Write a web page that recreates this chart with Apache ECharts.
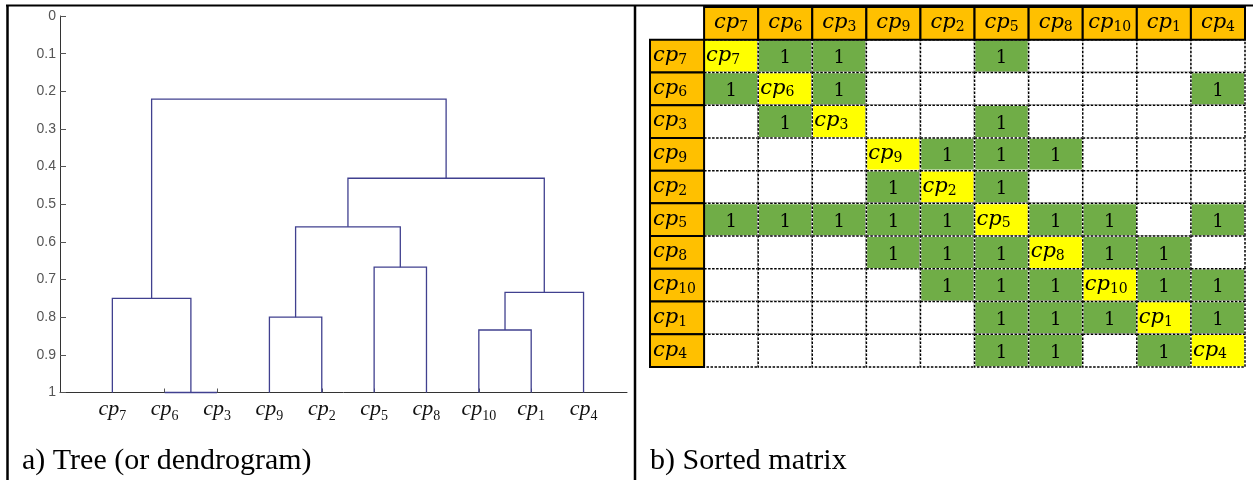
<!DOCTYPE html>
<html><head><meta charset="utf-8">
<script src="https://cdn.jsdelivr.net/npm/echarts@6/dist/echarts.min.js"></script>
<style>html,body{margin:0;padding:0;background:#fff}#c{width:1253px;height:480px}</style>
</head><body><div id="c"></div>
<script>
// ---- data ----
// leaf order (subscripts of cp)
const leaves = ['7','6','3','9','2','5','8','10','1','4'];
// linkage: children (0..9 leaves, 10+ merged clusters) and merge height
const linkA = [1, 0, 3, 5, 12, 7, 15, 14, 11];
const linkB = [2, 10, 4, 6, 13, 8, 9, 16, 17];
const linkH = [1.0, 0.75, 0.8, 0.667, 0.56, 0.834, 0.734, 0.431, 0.221];
const yTickStep = 0.1;
// sorted matrix (rows/cols in leaf order); diagonal shows the label
const matrixRows = [
  [0,1,1,0,0,1,0,0,0,0],
  [1,0,1,0,0,0,0,0,0,1],
  [0,1,0,0,0,1,0,0,0,0],
  [0,0,0,0,1,1,1,0,0,0],
  [0,0,0,1,0,1,0,0,0,0],
  [1,1,1,1,1,0,1,1,0,1],
  [0,0,0,1,1,1,0,1,1,0],
  [0,0,0,0,1,1,1,0,1,1],
  [0,0,0,0,0,1,1,1,0,1],
  [0,0,0,0,0,1,1,0,1,0]
];
const captionA = 'a) Tree (or dendrogram)';
const captionB = 'b) Sorted matrix';

// ---- build dendrogram segments ----
const nodeX = leaves.map((_, i) => i + 1);
const nodeY = leaves.map(() => 1);
const segs = [];
for (let k = 0; k < linkA.length; k++) {
  const a = linkA[k], b = linkB[k], h = linkH[k];
  segs.push([nodeX[a], nodeY[a], nodeX[b], nodeY[b], h]);
  nodeX.push((nodeX[a] + nodeX[b]) / 2);
  nodeY.push(h);
}

// ---- build matrix cells ----
const cells = [];
for (let r = 0; r < 10; r++) for (let c = 0; c < 10; c++) {
  cells.push({col: c + 1, row: r + 1, kind: r === c ? 2 : matrixRows[r][c], lab: leaves[r]});
}
for (let i = 0; i < 10; i++) {
  cells.push({col: i + 1, row: 0, kind: 3, lab: leaves[i]});
  cells.push({col: 0, row: i + 1, kind: 4, lab: leaves[i]});
}
const cats = Array.from({length: 11}, (_, i) => String(i));

const GREEN = '#70ad47', YELLOW = '#ffff00', ORANGE = '#ffc000';
const mathRich = {
  c: {fontFamily: 'DejaVu Serif', fontStyle: 'italic', fontSize: 21, lineHeight: 21, verticalAlign: 'top', color: '#000'},
  s: {fontFamily: 'DejaVu Serif', fontSize: 14, lineHeight: 22, verticalAlign: 'bottom', color: '#000'}
};

const chart = echarts.init(document.getElementById('c'), null, {renderer: 'canvas'});
chart.setOption({
  backgroundColor: '#fff',
  animation: false,
  grid: [
    {left: 60, top: 16, width: 567, height: 376.5},
    {left: 650, top: 7, width: 595, height: 360}
  ],
  xAxis: [
    {type: 'value', gridIndex: 0, min: 0, max: 10.83, interval: 1,
     axisLine: {show: true, onZero: false, lineStyle: {color: '#333', width: 1}},
     axisTick: {show: true, inside: true, length: 4, lineStyle: {color: '#555'}},
     splitLine: {show: false},
     axisLabel: {margin: 6, showMaxLabel: false, showMinLabel: false,
       formatter: v => (Number.isInteger(v) && v >= 1 && v <= 10) ? '{c|cp}{s|' + leaves[v - 1] + '}' : '',
       rich: {
         c: {fontFamily: 'Liberation Serif', fontStyle: 'italic', fontSize: 22, lineHeight: 22, verticalAlign: 'top', color: '#111'},
         s: {fontFamily: 'Liberation Serif', fontSize: 14, lineHeight: 25, verticalAlign: 'bottom', color: '#111'}
       }}},
    {type: 'category', gridIndex: 1, data: cats, show: false}
  ],
  yAxis: [
    {type: 'value', gridIndex: 0, inverse: true, min: 0, max: 1, interval: yTickStep,
     axisLine: {show: true, onZero: false, lineStyle: {color: '#333', width: 1}},
     axisTick: {show: true, inside: true, length: 6, lineStyle: {color: '#555'}},
     splitLine: {show: false},
     axisLabel: {margin: 4, color: '#555', fontFamily: 'Liberation Sans', fontSize: 14,
       formatter: v => String(+v.toFixed(1))}},
    {type: 'category', gridIndex: 1, data: cats, inverse: true, show: false}
  ],
  series: [
    {type: 'custom', xAxisIndex: 0, yAxisIndex: 0, clip: false, data: segs,
     renderItem(params, api) {
       const p1 = api.coord([api.value(0), api.value(1)]);
       const p2 = api.coord([api.value(0), api.value(4)]);
       const p3 = api.coord([api.value(2), api.value(4)]);
       const p4 = api.coord([api.value(2), api.value(3)]);
       return {type: 'polyline', shape: {points: [p1, p2, p3, p4]},
               style: {stroke: '#40408f', lineWidth: 1.3, fill: null}};
     }},
    {type: 'custom', xAxisIndex: 1, yAxisIndex: 1, clip: false,
     data: cells.map(c => [c.col, c.row, c.kind]),
     renderItem(params, api) {
       const cell = cells[params.dataIndex];
       const p = api.coord([cell.col, cell.row]);
       const s = api.size([1, 1]);
       const x0 = p[0] - s[0] / 2, y0 = p[1] - s[1] / 2, w = s[0], h = s[1];
       const children = [];
       const mathText = (x, align) => ({type: 'text', style: {
         text: '{c|cp}{s|' + cell.lab + '}', rich: mathRich, x: x, y: p[1] - 11,
         align: align, textAlign: align, verticalAlign: 'top', textVerticalAlign: 'top'}});
       if (cell.kind >= 3) {
         children.push({type: 'rect', shape: {x: x0, y: y0, width: w, height: h},
           style: {fill: ORANGE, stroke: '#000', lineWidth: 2}});
         children.push(cell.kind === 3 ? mathText(p[0], 'center') : mathText(x0 + 3, 'left'));
       } else {
         const fill = cell.kind === 2 ? YELLOW : (cell.kind === 1 ? GREEN : '#fff');
         children.push({type: 'rect', shape: {x: x0, y: y0, width: w, height: h},
           style: {fill: fill, stroke: '#fff', lineWidth: 1.6}});
         children.push({type: 'rect', shape: {x: x0, y: y0, width: w, height: h},
           style: {fill: null, stroke: '#000', lineWidth: 1.5, lineDash: [2.5, 1.5]}});
         if (cell.kind === 1) {
           children.push({type: 'text', style: {text: '1', x: p[0], y: p[1] + 2.5,
             font: '18px "DejaVu Serif"', fill: '#000', align: 'center', textAlign: 'center',
             verticalAlign: 'middle', textVerticalAlign: 'middle'}});
         } else if (cell.kind === 2) {
           children.push(mathText(x0 + 2, 'left'));
         }
       }
       return {type: 'group', children: children};
     }}
  ],
  graphic: [
    {type: 'line', shape: {x1: 6, y1: 5.5, x2: 1253, y2: 5.5}, style: {stroke: '#000', lineWidth: 2}, z: 100},
    {type: 'line', shape: {x1: 7.5, y1: 5, x2: 7.5, y2: 480}, style: {stroke: '#000', lineWidth: 2.5}, z: 100},
    {type: 'line', shape: {x1: 635, y1: 5, x2: 635, y2: 480}, style: {stroke: '#000', lineWidth: 2.5}, z: 100},
    {type: 'text', left: 22, top: 446, style: {text: captionA, font: '30px "Liberation Serif"', fill: '#000'}},
    {type: 'text', left: 650, top: 446, style: {text: captionB, font: '30px "Liberation Serif"', fill: '#000'}}
  ]
});
</script>
</body></html>
